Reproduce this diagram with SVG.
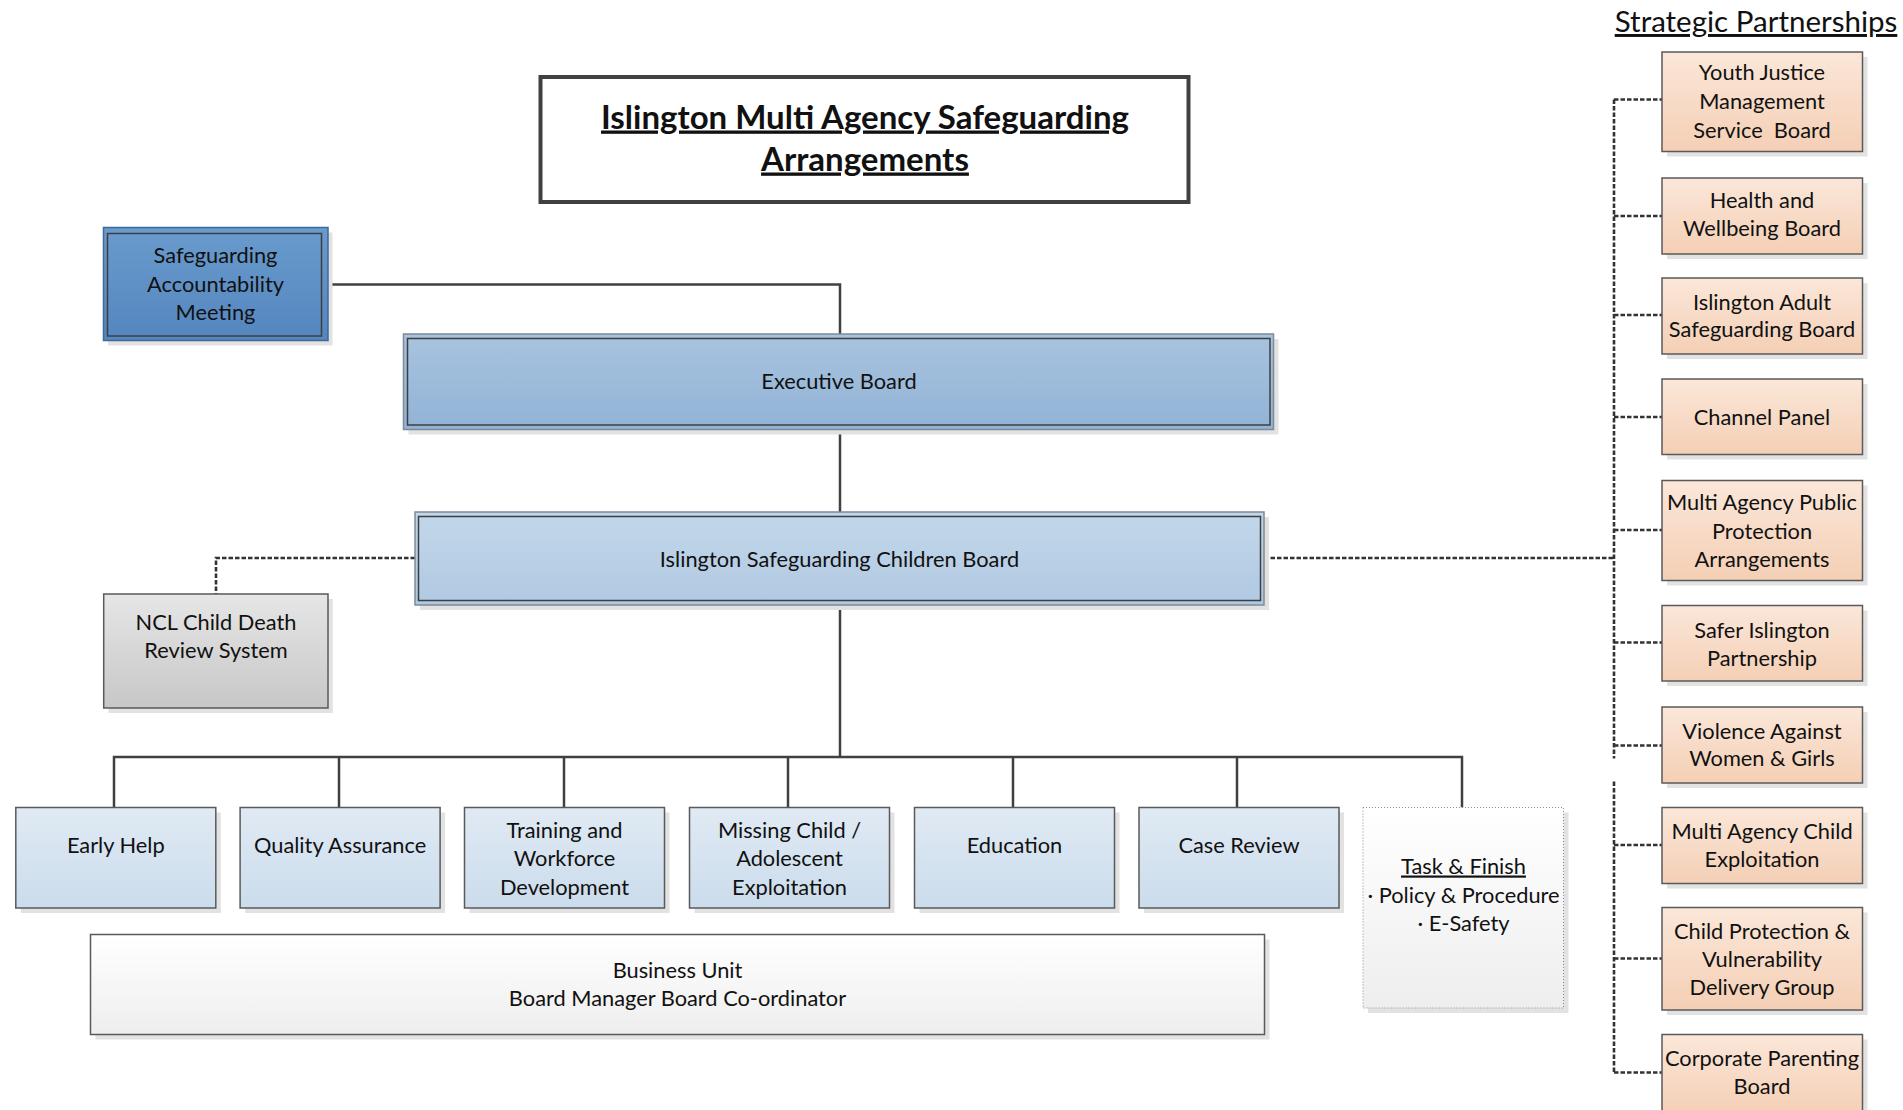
<svg xmlns="http://www.w3.org/2000/svg" width="1903" height="1110" viewBox="0 0 1903 1110">
<defs>
<linearGradient id="gSAM" x1="0" y1="0" x2="0" y2="1"><stop offset="0" stop-color="#6a9bcd"/><stop offset="1" stop-color="#5486bf"/></linearGradient>
<linearGradient id="gExec" x1="0" y1="0" x2="0" y2="1"><stop offset="0" stop-color="#a8c3df"/><stop offset="1" stop-color="#92b3d6"/></linearGradient>
<linearGradient id="gISCB" x1="0" y1="0" x2="0" y2="1"><stop offset="0" stop-color="#c3d7ea"/><stop offset="1" stop-color="#b0c9e2"/></linearGradient>
<linearGradient id="gSub" x1="0" y1="0" x2="0" y2="1"><stop offset="0" stop-color="#e0eaf4"/><stop offset="1" stop-color="#cbdcec"/></linearGradient>
<linearGradient id="gGrey" x1="0" y1="0" x2="0" y2="1"><stop offset="0" stop-color="#e6e6e6"/><stop offset="1" stop-color="#c7c7c7"/></linearGradient>
<linearGradient id="gWhite" x1="0" y1="0" x2="0" y2="1"><stop offset="0" stop-color="#ffffff"/><stop offset="1" stop-color="#eeeeee"/></linearGradient>
<linearGradient id="gPeach" x1="0" y1="0" x2="0" y2="1"><stop offset="0" stop-color="#fbe7d9"/><stop offset="1" stop-color="#f4cfb5"/></linearGradient>
</defs>
<style>
text { font-family: Lato, "Liberation Sans", sans-serif; font-size: 21.8px; fill: #111; text-anchor: middle; }
.title { font-size: 33px; font-weight: bold; text-decoration: underline; }
.sp { font-size: 29.5px; text-decoration: underline; }
.ul { text-decoration: underline; }
.sh { fill: #e2e2e2; }
.box { stroke: #5a5a5a; stroke-width: 1.5; }
.outer { stroke: #7d8a98; stroke-width: 1.5; }
.inner { fill: none; stroke: #3f3f3f; stroke-width: 1.5; }
.solid { fill: none; stroke: #404040; stroke-width: 2.5; }
.dash { fill: none; stroke: #333333; stroke-width: 2.6; stroke-dasharray: 4.5 2; }
</style>

<g id="connectors">
<path class="solid" d="M328,284.5 H840 V334"/>
<path class="solid" d="M840,429.5 V512"/>
<path class="solid" d="M840,605 V757"/>
<path class="solid" d="M114,807.5 V757 H1462 V807.5"/>
<path class="solid" d="M339,757 V807.5 M564,757 V807.5 M788,757 V807.5 M1013,757 V807.5 M1237,757 V807.5"/>
<path class="dash" d="M415,558 H216 V594"/>
<path class="dash" d="M1264,558 H1614"/>
<path class="dash" d="M1614,99.5 V758.5 M1614,781.5 V1072.5"/>
<path class="dash" d="M1614,99.5 H1662 M1614,216 H1662 M1614,315 H1662 M1614,417 H1662 M1614,530 H1662 M1614,642.5 H1662 M1614,745.5 H1662 M1614,845 H1662 M1614,958.5 H1662 M1614,1072.5 H1662"/>
</g>

<g id="title">
<rect x="540.5" y="77" width="648" height="125" fill="#fff" stroke="#404040" stroke-width="4"/>
<text class="title" x="865" y="128.5">Islington Multi Agency Safeguarding</text>
<text class="title" x="865" y="170.5">Arrangements</text>
</g>

<g id="sam">
<rect class="sh" x="108" y="232.5" width="224.5" height="113"/>
<rect x="103.5" y="227.5" width="224.5" height="113" fill="url(#gSAM)" stroke="#3d6a96" stroke-width="1.5"/>
<rect class="inner" x="107.5" y="233.5" width="214" height="102.5"/>
<text x="215.5" y="262.5">Safeguarding</text>
<text x="215.5" y="291.5">Accountability</text>
<text x="215.5" y="320">Meeting</text>
</g>

<g id="executive-board">
<rect class="sh" x="408.5" y="339" width="870" height="95.5"/>
<rect class="outer" x="403.5" y="334" width="870" height="95.5" fill="url(#gExec)"/>
<rect class="inner" x="407.5" y="338.5" width="862.5" height="86.5"/>
<text x="839" y="389">Executive Board</text>
</g>

<g id="iscb">
<rect class="sh" x="420" y="517" width="849" height="93"/>
<rect class="outer" x="415" y="512" width="849" height="93" fill="url(#gISCB)"/>
<rect class="inner" x="418.5" y="516.5" width="842" height="84"/>
<text x="839.5" y="566.5">Islington Safeguarding Children Board</text>
</g>

<g id="ncl">
<rect class="sh" x="108.5" y="599" width="224.3" height="114"/>
<rect class="box" x="103.7" y="594" width="224.3" height="114" fill="url(#gGrey)"/>
<text x="216" y="629.5">NCL Child Death</text>
<text x="216" y="657.5">Review System</text>
</g>

<g id="early-help">
<rect class="sh" x="20.8" y="812.5" width="200" height="100.5"/>
<rect class="box" x="15.8" y="807.5" width="200" height="100.5" fill="url(#gSub)"/>
<text x="115.8" y="852.5">Early Help</text>
</g>
<g id="quality-assurance">
<rect class="sh" x="245.1" y="812.5" width="200" height="100.5"/>
<rect class="box" x="240.1" y="807.5" width="200" height="100.5" fill="url(#gSub)"/>
<text x="340.1" y="852.5">Quality Assurance</text>
</g>
<g id="training">
<rect class="sh" x="469.5" y="812.5" width="200" height="100.5"/>
<rect class="box" x="464.5" y="807.5" width="200" height="100.5" fill="url(#gSub)"/>
<text x="564.5" y="838">Training and</text>
<text x="564.5" y="865.5">Workforce</text>
<text x="564.5" y="894.5">Development</text>
</g>
<g id="missing-child">
<rect class="sh" x="694.5" y="812.5" width="200" height="100.5"/>
<rect class="box" x="689.5" y="807.5" width="200" height="100.5" fill="url(#gSub)"/>
<text x="789.5" y="838">Missing Child /</text>
<text x="789.5" y="865.5">Adolescent</text>
<text x="789.5" y="894.5">Exploitation</text>
</g>
<g id="education">
<rect class="sh" x="919.5" y="812.5" width="200" height="100.5"/>
<rect class="box" x="914.5" y="807.5" width="200" height="100.5" fill="url(#gSub)"/>
<text x="1014.5" y="852.5">Education</text>
</g>
<g id="case-review">
<rect class="sh" x="1144" y="812.5" width="200" height="100.5"/>
<rect class="box" x="1139" y="807.5" width="200" height="100.5" fill="url(#gSub)"/>
<text x="1239" y="852.5">Case Review</text>
</g>
<g id="task-finish">
<rect class="sh" x="1368" y="812.5" width="200.5" height="200.5" fill="#e8e8e8"/>
<rect x="1363" y="807.5" width="200.5" height="200.5" fill="url(#gWhite)" stroke="#8a8a8a" stroke-width="1" stroke-dasharray="1 2"/>
<text class="ul" x="1463.5" y="873.5">Task &amp; Finish</text>
<text x="1463.5" y="903">· Policy &amp; Procedure</text>
<text x="1463.5" y="930.5">· E-Safety</text>
</g>
<g id="business-unit">
<rect class="sh" x="95.5" y="939.5" width="1174" height="100"/>
<rect class="box" x="90.5" y="934.5" width="1174" height="100" fill="url(#gWhite)"/>
<text x="677.5" y="977.5">Business Unit</text>
<text x="677.5" y="1005.5">Board Manager Board Co-ordinator</text>
</g>

<text id="strategic-partnerships" class="sp" x="1756" y="32">Strategic Partnerships</text>

<g id="youth-justice">
<rect class="sh" x="1667" y="57" width="200.5" height="99.5"/>
<rect class="box" x="1662" y="52" width="200.5" height="99.5" fill="url(#gPeach)"/>
<text x="1762" y="80">Youth Justice</text>
<text x="1762" y="109">Management</text>
<text x="1762" y="138">Service&#160; Board</text>
</g>
<g id="health-wellbeing">
<rect class="sh" x="1667" y="183" width="200.5" height="76"/>
<rect class="box" x="1662" y="178" width="200.5" height="76" fill="url(#gPeach)"/>
<text x="1762" y="207.5">Health and</text>
<text x="1762" y="236">Wellbeing Board</text>
</g>
<g id="adult-safeguarding">
<rect class="sh" x="1667" y="283" width="200.5" height="76"/>
<rect class="box" x="1662" y="278" width="200.5" height="76" fill="url(#gPeach)"/>
<text x="1762" y="309.5">Islington Adult</text>
<text x="1762" y="337">Safeguarding Board</text>
</g>
<g id="channel-panel">
<rect class="sh" x="1667" y="384" width="200.5" height="75.5"/>
<rect class="box" x="1662" y="379" width="200.5" height="75.5" fill="url(#gPeach)"/>
<text x="1762" y="424.5">Channel Panel</text>
</g>
<g id="mappa">
<rect class="sh" x="1667" y="485.5" width="200.5" height="100"/>
<rect class="box" x="1662" y="480.5" width="200.5" height="100" fill="url(#gPeach)"/>
<text x="1762" y="509.5">Multi Agency Public</text>
<text x="1762" y="538.5">Protection</text>
<text x="1762" y="567">Arrangements</text>
</g>
<g id="safer-islington">
<rect class="sh" x="1667" y="610.5" width="200.5" height="75.5"/>
<rect class="box" x="1662" y="605.5" width="200.5" height="75.5" fill="url(#gPeach)"/>
<text x="1762" y="638">Safer Islington</text>
<text x="1762" y="665.5">Partnership</text>
</g>
<g id="vawg">
<rect class="sh" x="1667" y="712" width="200.5" height="76"/>
<rect class="box" x="1662" y="707" width="200.5" height="76" fill="url(#gPeach)"/>
<text x="1762" y="738.5">Violence Against</text>
<text x="1762" y="766">Women &amp; Girls</text>
</g>
<g id="mace">
<rect class="sh" x="1667" y="812.5" width="200.5" height="76"/>
<rect class="box" x="1662" y="807.5" width="200.5" height="76" fill="url(#gPeach)"/>
<text x="1762" y="838.5">Multi Agency Child</text>
<text x="1762" y="867">Exploitation</text>
</g>
<g id="child-protection">
<rect class="sh" x="1667" y="912.5" width="200.5" height="102.5"/>
<rect class="box" x="1662" y="907.5" width="200.5" height="102.5" fill="url(#gPeach)"/>
<text x="1762" y="938.5">Child Protection &amp;</text>
<text x="1762" y="966.5">Vulnerability</text>
<text x="1762" y="995">Delivery Group</text>
</g>
<g id="corporate-parenting">
<rect class="sh" x="1667" y="1039.5" width="200.5" height="80"/>
<rect class="box" x="1662" y="1034.5" width="200.5" height="80" fill="url(#gPeach)"/>
<text x="1762" y="1065.5">Corporate Parenting</text>
<text x="1762" y="1093.5">Board</text>
</g>
</svg>
